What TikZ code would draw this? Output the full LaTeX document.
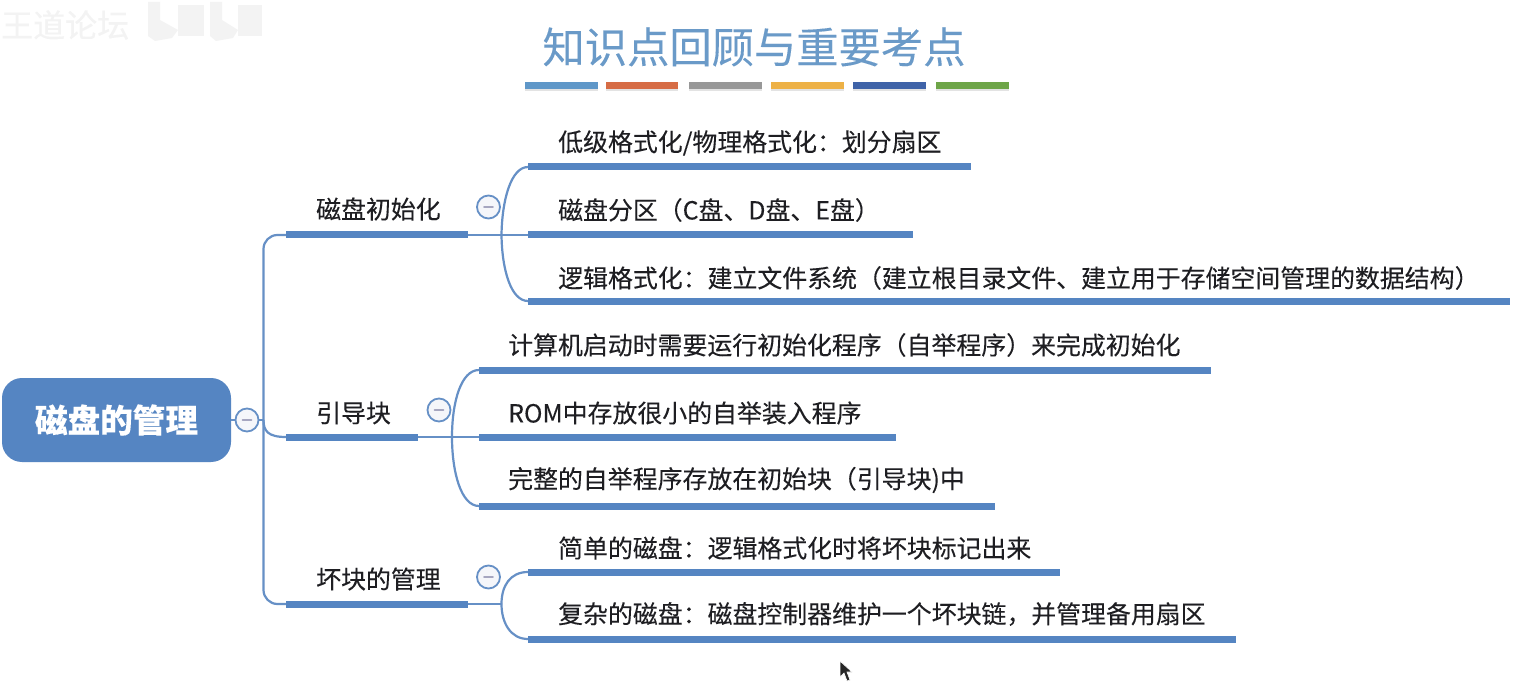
\documentclass[tikz,border=0pt]{standalone}
\usepackage{fontspec}
\setmainfont[FakeBold=0.12]{Noto Sans CJK SC}
\newfontfamily\plainfont{Noto Sans CJK SC}
\usetikzlibrary{shadows}
\definecolor{mapblue}{HTML}{5585C2}
\definecolor{linkblue}{HTML}{6690C6}
\definecolor{titleblue}{HTML}{6A9AC8}
\definecolor{ink}{HTML}{1E1E22}
\definecolor{togglefill}{HTML}{F5F6FA}
\definecolor{minusgrey}{HTML}{A6A6C0}
\definecolor{wmgrey}{HTML}{F3F3F3}
\tikzset{
  bar/.style={fill=mapblue,draw=none,inner sep=0pt,minimum height=7pt},
  link/.style={draw=linkblue,line width=2.2pt},
  thin link/.style={draw=linkblue,line width=1.8pt},
  topic/.style={anchor=west,inner sep=0pt,text=ink,font=\fontsize{24.9pt}{26pt}\selectfont},
  toggle/.style={circle,draw=linkblue,line width=1.8pt,fill=togglefill,minimum size=23pt,inner sep=0pt,
    path picture={\draw[line width=1.6pt,draw=minusgrey,line cap=round]
      ([xshift=-4.5pt]path picture bounding box.center) -- ([xshift=4.5pt]path picture bounding box.center);}},
  stripe/.style={inner sep=0pt,minimum height=7pt,draw=none,drop shadow={opacity=.22,shadow xshift=0pt,shadow yshift=-2.5pt}},
  faint/.style={fill=wmgrey,draw=none}
}
\newcommand{\barnode}[5]{% name, x1, x2, y, unused
  \node[bar,minimum width=#3pt-#2pt,anchor=west] (#1) at (#2,#4) {};}
\begin{document}
\begin{tikzpicture}[x=1pt,y=-1pt]
\useasboundingbox[fill=white] (0,0) rectangle (1516,687);

% watermark
\node[anchor=west,inner sep=0pt,text=wmgrey,font=\fontsize{32pt}{34pt}\selectfont] (wm) at (1,25) {王道论坛};
\fill[faint] (148,2) -- (160,2) -- (160,20) -- (178,30) -- (172,38) -- (155,41) -- (148,36) -- cycle;
\fill[faint] (178,5) rectangle (204,36);
\fill[faint] (210,2) -- (222,2) -- (222,20) -- (238,30) -- (233,38) -- (216,41) -- (210,36) -- cycle;
\fill[faint] (238,5) rectangle (262,36);

% title
\node[inner sep=0pt,text=titleblue,font=\fontsize{42.3pt}{44pt}\selectfont] (title) at (754,47) {知识点回顾与重要考点};
\definecolor{st2}{HTML}{D66C45}
\definecolor{st3}{HTML}{989898}
\definecolor{st4}{HTML}{EDB146}
\definecolor{st5}{HTML}{3F63A8}
\definecolor{st6}{HTML}{6EA548}
\definecolor{st1}{HTML}{5F97C8}
\node[stripe,fill=st1,minimum width=73pt,anchor=west] (s1) at (525,85.5) {};
\node[stripe,fill=st2,minimum width=72pt,anchor=west] (s2) at (606,85.5) {};
\node[stripe,fill=st3,minimum width=73pt,anchor=west] (s3) at (689,85.5) {};
\node[stripe,fill=st4,minimum width=73pt,anchor=west] (s4) at (771,85.5) {};
\node[stripe,fill=st5,minimum width=73pt,anchor=west] (s5) at (853,85.5) {};
\node[stripe,fill=st6,minimum width=73pt,anchor=west] (s6) at (936,85.5) {};

% root
\node[fill=mapblue,rounded corners=20pt,minimum width=229pt,minimum height=84pt,inner sep=0pt,
  text=white,font=\fontsize{32.6pt}{34pt}\selectfont\bfseries] (root) at (116.5,420) {磁盘的管理};
\node[toggle] (troot) at (247,420) {};

% level 1 bars
\barnode{b1}{286}{468}{235}{}
\barnode{b2}{286}{418}{437}{}
\barnode{b3}{286}{468}{604}{}
\node[topic] (t1) at (316,209) {磁盘初始化};
\node[topic] (t2) at (316,413) {引导块};
\node[topic] (t3) at (316,579) {坏块的管理};

% level 2 bars and texts
\barnode{a1}{528}{971}{167}{}
\barnode{a2}{528}{913}{235}{}
\barnode{a3}{528}{1510}{301}{}
\barnode{c1}{479}{1211}{370}{}
\barnode{c2}{479}{896}{437}{}
\barnode{c3}{479}{995}{506}{}
\barnode{d1}{528}{1060}{572}{}
\barnode{d2}{528}{1236}{639}{}
\node[topic] (ta1) at (558,143) {低级格式化/物理格式化：划分扇区};
\node[topic] (ta2) at (558,210) {磁盘分区（C盘、D盘、E盘）};
\node[topic] (ta3) at (558,278) {逻辑格式化：建立文件系统（建立根目录文件、建立用于存储空间管理的数据结构）};
\node[topic] (tc1) at (508,345) {计算机启动时需要运行初始化程序（自举程序）来完成初始化};
\node[topic] (tc2) at (508,413) {ROM中存放很小的自举装入程序};
\node[topic] (tc3) at (508,480) {完整的自举程序存放在初始块（引导块)中};
\node[topic] (td1) at (558,548) {简单的磁盘：逻辑格式化时将坏块标记出来};
\node[topic] (td2) at (558,614) {复杂的磁盘：磁盘控制器维护一个坏块链，并管理备用扇区};

% junctions
\coordinate (jt) at (263.5,420);
\coordinate (jtop) at (263.5,235);
\coordinate (jbot) at (263.5,604);
\coordinate (ja) at (501.5,235);
\coordinate (jc) at (452,437);
\coordinate (jd) at (501.5,604);

% connectors
\draw[link] (root.east) -- (troot.west);
\draw[link] (troot.east) -- (jt);
\draw[link,rounded corners=14pt] (b1.west) -- (jtop) -- (jbot) -- (b3.west);
\draw[link] (jt) .. controls (263.5,431) and (268,437) .. (b2.west);

\draw[thin link] (b1.east) -- (a2.west);
\draw[link] (ja) .. controls (502,200) and (511,167) .. (a1.west);
\draw[link] (ja) .. controls (502,270) and (511,301) .. (a3.west);

\draw[thin link] (b2.east) -- (c2.west);
\draw[link] (jc) .. controls (452,402) and (461,370) .. (c1.west);
\draw[link] (jc) .. controls (452,472) and (461,506) .. (c3.west);

\draw[thin link] (b3.east) -- (jd);
\draw[link] (jd) .. controls (501.5,586) and (510,572) .. (d1.west);
\draw[link] (jd) .. controls (501.5,622) and (510,639) .. (d2.west);

% collapse toggles
\node[toggle] (ta) at (488.5,207) {};
\node[toggle] (tc) at (439,410) {};
\node[toggle] (td) at (488.5,577) {};

% mouse pointer
\fill[black!85,draw=white,line width=.6pt] (840,661) -- (840,677) -- (844,673) -- (847,681) -- (850,680) -- (847,672) -- (852,672) -- cycle;
\end{tikzpicture}
\end{document}
